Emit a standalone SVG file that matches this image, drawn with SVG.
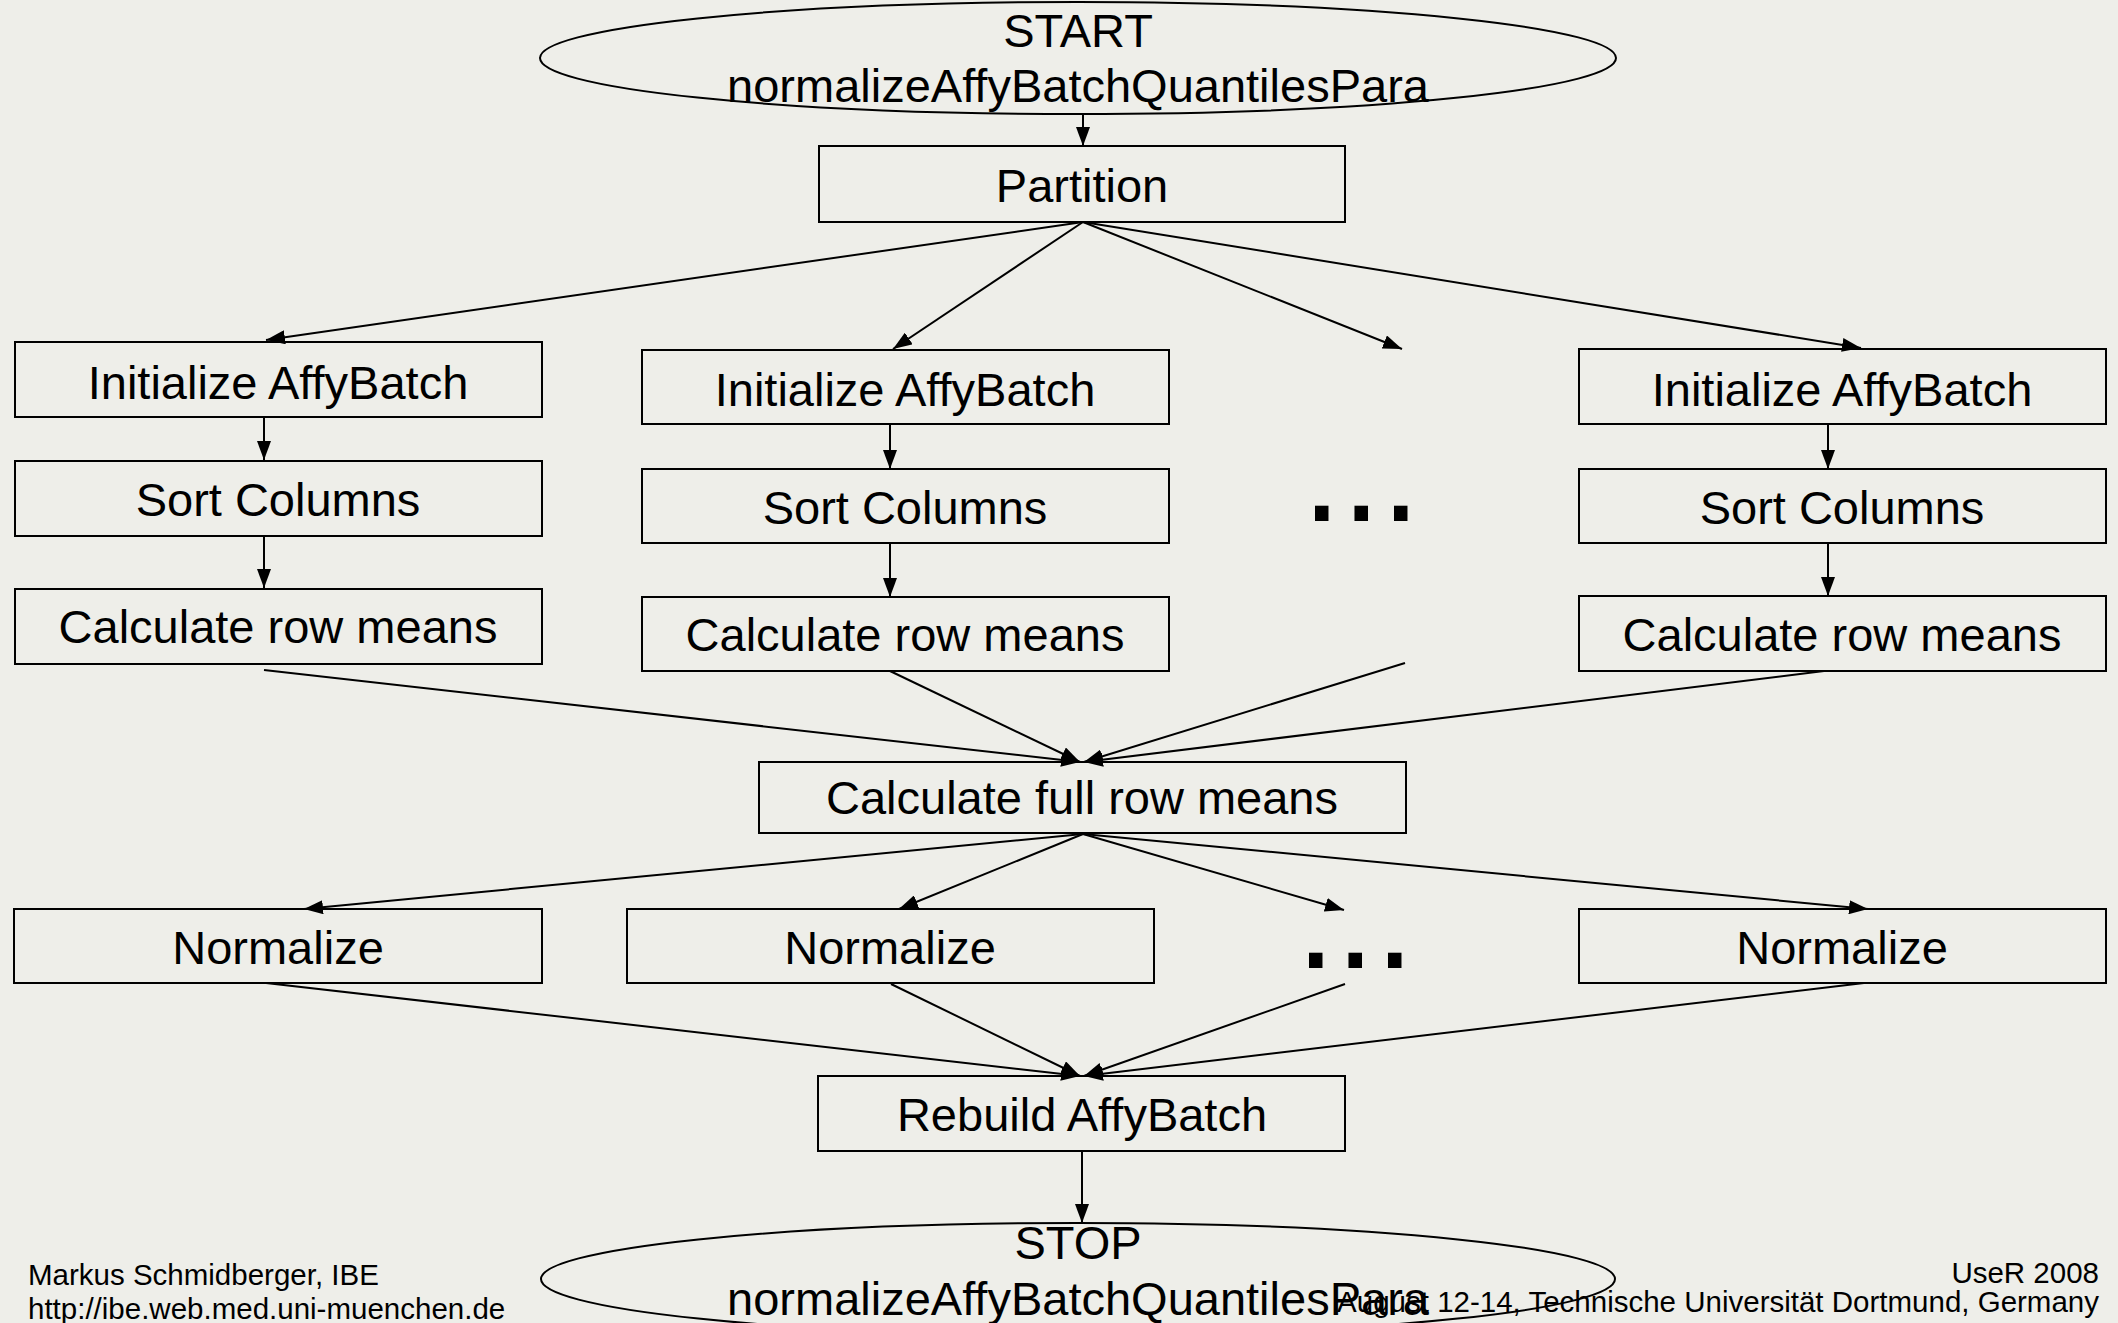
<svg xmlns="http://www.w3.org/2000/svg" width="2118" height="1323" viewBox="0 0 2118 1323">
  <style>
    .box { fill: none; stroke: #000; stroke-width: 2; }
    .term { fill: none; stroke: #000; stroke-width: 2; }
    .lbl { font-family: "Liberation Sans", Arial, sans-serif; font-size: 47px; fill: #000; text-anchor: middle; }
    .dots { font-family: "Liberation Sans", Arial, sans-serif; font-size: 142px; fill: #000; }
    .foot { font-family: "Liberation Sans", Arial, sans-serif; font-size: 29.5px; fill: #000; }
    .edge { stroke: #000; stroke-width: 2; fill: none; marker-end: url(#arrow); }
  </style>
  <defs>
    <marker id="arrow" markerUnits="userSpaceOnUse" markerWidth="20" markerHeight="14" refX="19" refY="7" orient="auto">
      <path d="M0,0 L19,7 L0,14 z" fill="#000"/>
    </marker>
  </defs>

  <rect width="2118" height="1323" fill="#eeeee9"/>

  <!-- connectors -->
  <g id="connectors">
    <line class="edge" x1="1083" y1="115" x2="1083" y2="146"/>
    <line class="edge" x1="1083" y1="222" x2="266" y2="340"/>
    <line class="edge" x1="1083" y1="222" x2="893" y2="349"/>
    <line class="edge" x1="1083" y1="222" x2="1402" y2="349"/>
    <line class="edge" x1="1083" y1="222" x2="1861" y2="348"/>

    <line class="edge" x1="264" y1="417" x2="264" y2="460"/>
    <line class="edge" x1="264" y1="536" x2="264" y2="588"/>
    <line class="edge" x1="890" y1="424" x2="890" y2="469"/>
    <line class="edge" x1="890" y1="543" x2="890" y2="597"/>
    <line class="edge" x1="1828" y1="424" x2="1828" y2="469"/>
    <line class="edge" x1="1828" y1="543" x2="1828" y2="596"/>

    <line class="edge" x1="264" y1="670" x2="1080" y2="762"/>
    <line class="edge" x1="890" y1="671" x2="1080" y2="762"/>
    <line class="edge" x1="1405" y1="663" x2="1084" y2="762"/>
    <line class="edge" x1="1824" y1="671" x2="1084" y2="762"/>

    <line class="edge" x1="1083" y1="834" x2="304" y2="909"/>
    <line class="edge" x1="1083" y1="834" x2="899" y2="909"/>
    <line class="edge" x1="1083" y1="834" x2="1344" y2="910"/>
    <line class="edge" x1="1083" y1="834" x2="1868" y2="909"/>

    <line class="edge" x1="266" y1="983" x2="1080" y2="1076"/>
    <line class="edge" x1="891" y1="984" x2="1080" y2="1076"/>
    <line class="edge" x1="1345" y1="984" x2="1084" y2="1076"/>
    <line class="edge" x1="1864" y1="983" x2="1084" y2="1076"/>

    <line class="edge" x1="1082" y1="1151" x2="1082" y2="1223"/>
  </g>

  <!-- start / stop terminals -->
  <g id="start">
    <ellipse class="term" cx="1078" cy="58" rx="538" ry="56"/>
    <text class="lbl" x="1078" y="47">START</text>
    <text class="lbl" x="1078" y="102">normalizeAffyBatchQuantilesPara</text>
  </g>

  <g id="partition">
    <rect class="box" x="819" y="146" width="526" height="76"/>
    <text class="lbl" x="1082" y="202">Partition</text>
  </g>

  <!-- column 1 -->
  <g id="init1">
    <rect class="box" x="15" y="342" width="527" height="75"/>
    <text class="lbl" x="278" y="399">Initialize AffyBatch</text>
  </g>
  <g id="sort1">
    <rect class="box" x="15" y="461" width="527" height="75"/>
    <text class="lbl" x="278" y="516">Sort Columns</text>
  </g>
  <g id="calc1">
    <rect class="box" x="15" y="589" width="527" height="75"/>
    <text class="lbl" x="278" y="643">Calculate row means</text>
  </g>

  <!-- column 2 -->
  <g id="init2">
    <rect class="box" x="642" y="350" width="527" height="74"/>
    <text class="lbl" x="905" y="406">Initialize AffyBatch</text>
  </g>
  <g id="sort2">
    <rect class="box" x="642" y="469" width="527" height="74"/>
    <text class="lbl" x="905" y="524">Sort Columns</text>
  </g>
  <g id="calc2">
    <rect class="box" x="642" y="597" width="527" height="74"/>
    <text class="lbl" x="905" y="651">Calculate row means</text>
  </g>

  <!-- further columns elided -->
  <g id="more1">
    <text class="dots" x="1302" y="521">...</text>
  </g>

  <!-- last column -->
  <g id="init3">
    <rect class="box" x="1579" y="349" width="527" height="75"/>
    <text class="lbl" x="1842" y="406">Initialize AffyBatch</text>
  </g>
  <g id="sort3">
    <rect class="box" x="1579" y="469" width="527" height="74"/>
    <text class="lbl" x="1842" y="524">Sort Columns</text>
  </g>
  <g id="calc3">
    <rect class="box" x="1579" y="596" width="527" height="75"/>
    <text class="lbl" x="1842" y="651">Calculate row means</text>
  </g>

  <g id="fullmeans">
    <rect class="box" x="759" y="762" width="647" height="71"/>
    <text class="lbl" x="1082" y="814">Calculate full row means</text>
  </g>

  <g id="norm1">
    <rect class="box" x="14" y="909" width="528" height="74"/>
    <text class="lbl" x="278" y="964">Normalize</text>
  </g>
  <g id="norm2">
    <rect class="box" x="627" y="909" width="527" height="74"/>
    <text class="lbl" x="890" y="964">Normalize</text>
  </g>
  <g id="more2">
    <text class="dots" x="1296" y="968">...</text>
  </g>
  <g id="norm3">
    <rect class="box" x="1579" y="909" width="527" height="74"/>
    <text class="lbl" x="1842" y="964">Normalize</text>
  </g>

  <g id="rebuild">
    <rect class="box" x="818" y="1076" width="527" height="75"/>
    <text class="lbl" x="1082" y="1131">Rebuild AffyBatch</text>
  </g>

  <g id="stop">
    <ellipse class="term" cx="1078" cy="1279" rx="537" ry="56"/>
    <text class="lbl" x="1078" y="1259">STOP</text>
    <text class="lbl" x="1078" y="1315">normalizeAffyBatchQuantilesPara</text>
  </g>

  <!-- slide footer -->
  <g id="footer">
    <text class="foot" x="28" y="1285">Markus Schmidberger, IBE</text>
    <text class="foot" x="28" y="1319">http://ibe.web.med.uni-muenchen.de</text>
    <text class="foot" x="2099" y="1283" text-anchor="end">UseR 2008</text>
    <text class="foot" x="2099" y="1312" text-anchor="end">August 12-14, Technische Universität Dortmund, Germany</text>
  </g>
</svg>
